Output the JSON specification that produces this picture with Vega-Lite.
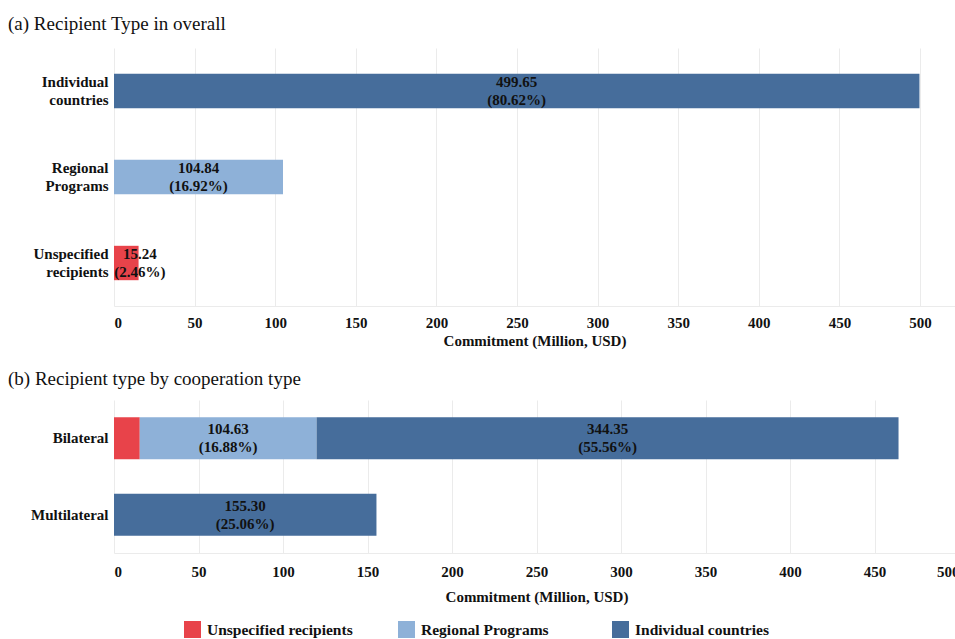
{
  "$schema": "https://vega.github.io/schema/vega-lite/v6.json",
  "background": "white",
  "padding": {"left": 8, "top": 15, "right": 0, "bottom": 0},
  "config": {
    "font": "Liberation Serif",
    "view": {"stroke": null},
    "axis": {
      "labelFont": "Liberation Serif",
      "labelFontSize": 15,
      "labelFontWeight": "bold",
      "labelColor": "#111111",
      "titleFont": "Liberation Serif",
      "titleFontSize": 15,
      "titleFontWeight": "bold",
      "titleColor": "#111111",
      "ticks": false,
      "gridColor": "#ebebeb",
      "domainColor": "#ebebeb"
    },
    "title": {
      "font": "Liberation Serif",
      "fontSize": 19,
      "fontWeight": "normal",
      "color": "#111111",
      "anchor": "start",
      "frame": "group"
    }
  },
  "datasets": {
    "overall": [
      {"type": "Individual countries", "value": 499.65, "pct": 80.62},
      {"type": "Regional Programs", "value": 104.84, "pct": 16.92},
      {"type": "Unspecified recipients", "value": 15.24, "pct": 2.46}
    ],
    "bycoop": [
      {"coop": "Bilateral", "type": "Unspecified recipients", "value": 15.24, "pct": 2.46},
      {"coop": "Bilateral", "type": "Regional Programs", "value": 104.63, "pct": 16.88},
      {"coop": "Bilateral", "type": "Individual countries", "value": 344.35, "pct": 55.56},
      {"coop": "Multilateral", "type": "Individual countries", "value": 155.30, "pct": 25.06}
    ]
  },
  "spacing": 22,
  "resolve": {"scale": {"color": "shared"}, "legend": {"color": "independent"}},
  "vconcat": [
    {
      "width": 841,
      "height": 258,
      "title": {"text": "(a) Recipient Type in overall", "dx": -106, "offset": 14},
      "data": {"name": "overall"},
      "transform": [
        {"calculate": "indexof(['Unspecified recipients','Regional Programs','Individual countries'], datum.type)", "as": "rank"},
        {"stack": "value", "groupby": ["type"], "sort": [{"field": "rank"}], "as": ["x0", "x1"]},
        {"calculate": "max((datum.x0 + datum.x1) / 2, 16)", "as": "labelX"},
        {"calculate": "[format(datum.value, '.2f'), '(' + format(datum.pct, '.2f') + '%)']", "as": "label"}
      ],
      "encoding": {
        "y": {
          "field": "type",
          "type": "nominal",
          "sort": ["Individual countries", "Regional Programs", "Unspecified recipients"],
          "scale": {"paddingInner": 0.6, "paddingOuter": 0.3},
          "axis": {"title": null, "domain": false, "grid": false, "labelExpr": "split(datum.value, ' ')", "labelLineHeight": 18, "labelOffset": -9, "labelPadding": 6}
        }
      },
      "layer": [
        {
          "mark": {"type": "bar"},
          "encoding": {
            "x": {
              "field": "x0",
              "type": "quantitative",
              "scale": {"domain": [0, 521.7], "nice": false},
              "axis": {"title": "Commitment (Million, USD)", "values": [0, 50, 100, 150, 200, 250, 300, 350, 400, 450, 500], "grid": true, "labelPadding": 9, "titlePadding": 3}
            },
            "x2": {"field": "x1"},
            "color": {
              "field": "type",
              "type": "nominal",
              "scale": {"domain": ["Unspecified recipients", "Regional Programs", "Individual countries"], "range": ["#E8434A", "#8EB1D8", "#466D9B"]},
              "legend": null
            }
          }
        },
        {
          "mark": {"type": "text", "fontWeight": "bold", "fontSize": 15, "lineHeight": 18, "baseline": "middle", "dy": -9, "color": "#111111"},
          "encoding": {
            "x": {"field": "labelX", "type": "quantitative"},
            "text": {"field": "label", "type": "nominal"}
          }
        }
      ]
    },
    {
      "width": 845,
      "height": 153,
      "title": {"text": "(b) Recipient type by cooperation type", "dx": -106, "offset": 11},
      "data": {"name": "bycoop"},
      "transform": [
        {"calculate": "indexof(['Unspecified recipients','Regional Programs','Individual countries'], datum.type)", "as": "rank"},
        {"stack": "value", "groupby": ["coop"], "sort": [{"field": "rank"}], "as": ["x0", "x1"]},
        {"calculate": "(datum.x0 + datum.x1) / 2", "as": "labelX"},
        {"calculate": "[format(datum.value, '.2f'), '(' + format(datum.pct, '.2f') + '%)']", "as": "label"}
      ],
      "encoding": {
        "y": {
          "field": "coop",
          "type": "nominal",
          "sort": ["Bilateral", "Multilateral"],
          "scale": {"paddingInner": 0.45, "paddingOuter": 0.225},
          "axis": {"title": null, "domain": false, "grid": false, "labelPadding": 6}
        }
      },
      "layer": [
        {
          "mark": {"type": "bar"},
          "encoding": {
            "x": {
              "field": "x0",
              "type": "quantitative",
              "scale": {"domain": [0, 500], "nice": false},
              "axis": {"title": "Commitment (Million, USD)", "values": [0, 50, 100, 150, 200, 250, 300, 350, 400, 450, 500], "grid": true, "labelPadding": 11, "titlePadding": 10}
            },
            "x2": {"field": "x1"},
            "color": {
              "field": "type",
              "type": "nominal",
              "legend": {
                "title": null,
                "orient": "none",
                "legendX": 70,
                "legendY": 221,
                "direction": "horizontal",
                "columns": 3,
                "gridAlign": "all",
                "columnPadding": 45,
                "symbolType": "square",
                "symbolSize": 289,
                "symbolStrokeWidth": 0,
                "labelFont": "Liberation Serif",
                "labelFontSize": 15.5,
                "labelFontWeight": "bold",
                "labelColor": "#111111",
                "labelOffset": 6
              }
            }
          }
        },
        {
          "transform": [{"filter": "datum.type != 'Unspecified recipients'"}],
          "mark": {"type": "text", "fontWeight": "bold", "fontSize": 15, "lineHeight": 18, "baseline": "middle", "dy": -9, "color": "#111111"},
          "encoding": {
            "x": {"field": "labelX", "type": "quantitative"},
            "text": {"field": "label", "type": "nominal"}
          }
        }
      ]
    }
  ]
}
